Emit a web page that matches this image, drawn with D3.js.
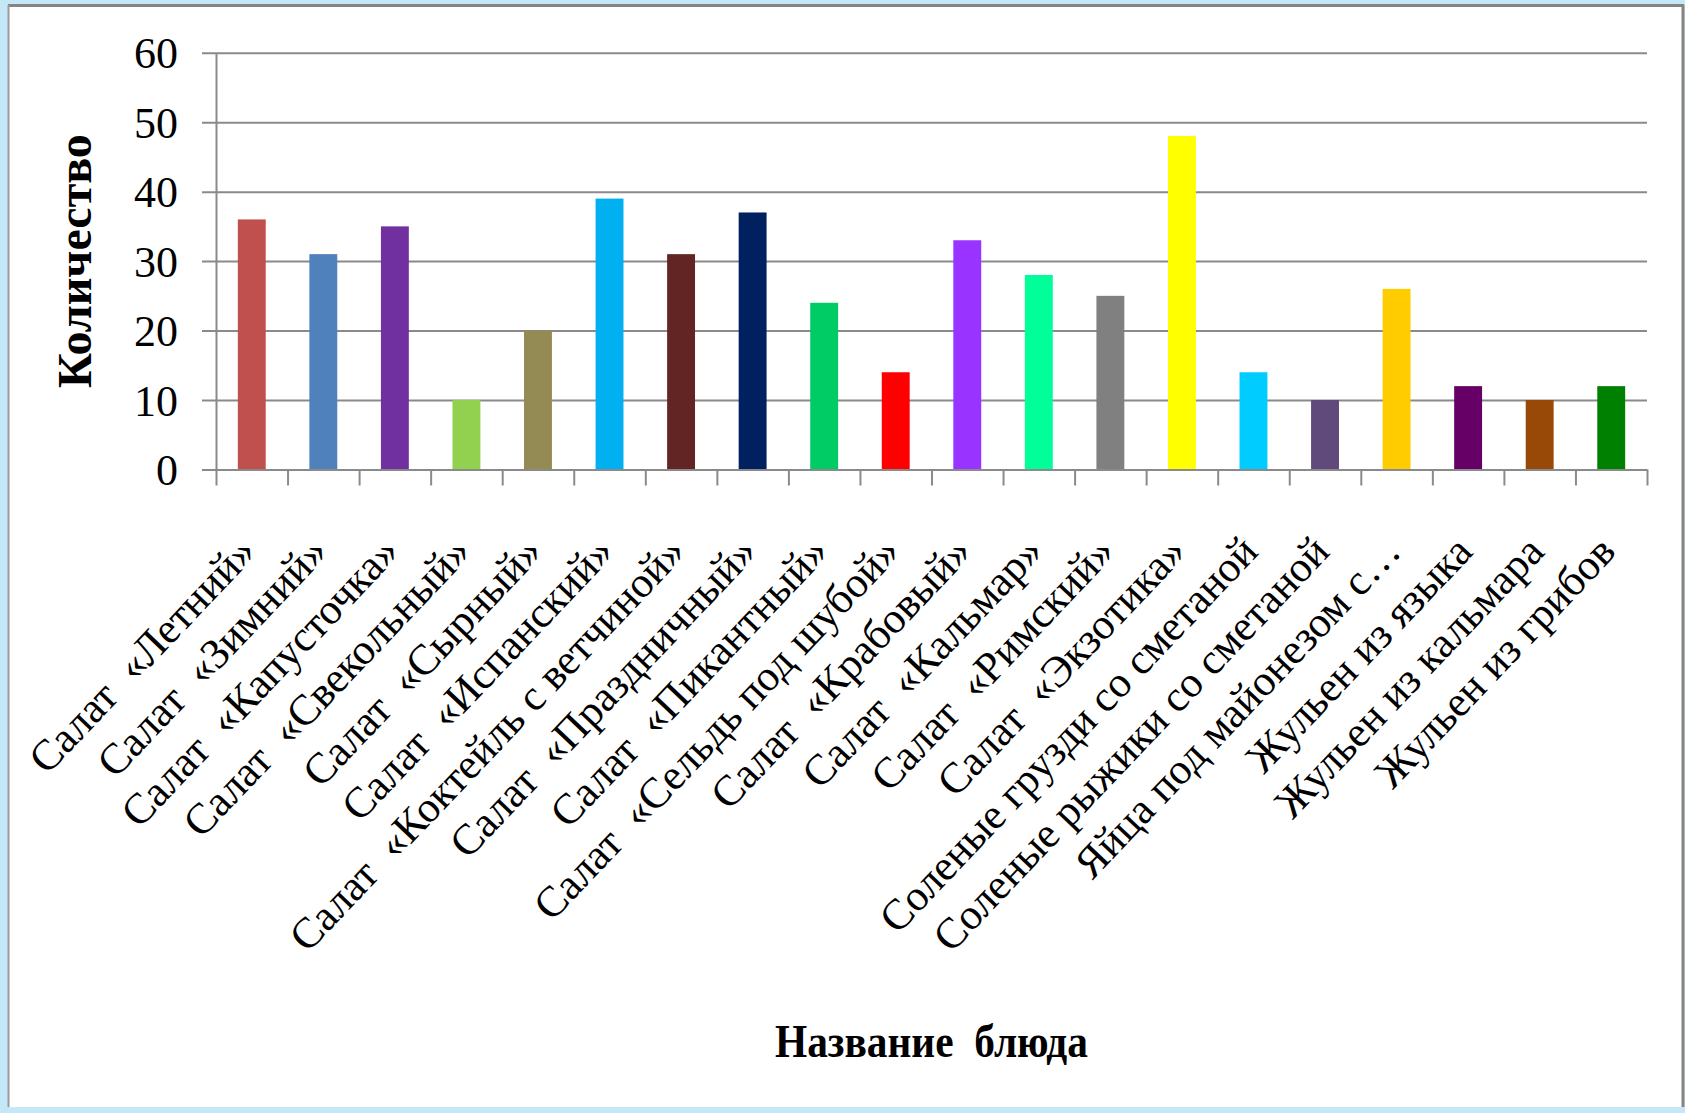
<!DOCTYPE html>
<html>
<head>
<meta charset="utf-8">
<script src="https://cdn.jsdelivr.net/npm/d3@7"></script>
<style>
  body { margin: 0; background: #c4e8f8; }
  svg { display: block; }
  text { font-family: "Liberation Serif", "Times New Roman", serif; fill: #000; }
</style>
</head>
<body>
<svg width="1685" height="1113"></svg>
<script>
var dishes = [
    "Салат  «Летний»", "Салат  «Зимний»", "Салат  «Капусточка»", "Салат  «Свекольный»",
    "Салат  «Сырный»", "Салат  «Испанский»", "Салат  «Коктейль с ветчиной»", "Салат  «Праздничный»",
    "Салат  «Пикантный»", "Салат  «Сельдь под шубой»", "Салат  «Крабовый»", "Салат  «Кальмар»",
    "Салат  «Римский»", "Салат  «Экзотика»", "Соленые грузди со сметаной", "Соленые рыжики со сметаной",
    "Яйца под майонезом с…", "Жульен из языка", "Жульен из кальмара", "Жульен из грибов"
];
var counts = [36, 31, 35, 10, 20, 39, 31, 37, 24, 14, 33, 28, 25, 48, 14, 10, 26, 12, 10, 12];
var barColors = [
    "#c0504d", "#4f81bd", "#7030a0", "#92d050", "#948a54", "#00b0f0", "#632523", "#002060",
    "#00cc66", "#ff0000", "#9933ff", "#00ff99", "#808080", "#ffff00", "#00ccff", "#604a7b",
    "#ffcc00", "#660066", "#984807", "#008000"
];
var yTicks = [0, 10, 20, 30, 40, 50, 60];

function main() {
    var svg = d3.select("svg");

    // frame of the slide
    svg.append("rect").attr("x", 8).attr("y", 5).attr("width", 1675).attr("height", 1102)
        .attr("fill", "#fff");
    svg.append("line").attr("x1", 8).attr("x2", 1684).attr("y1", 5.5).attr("y2", 5.5)
        .attr("stroke", "#858585").attr("stroke-width", 3);
    svg.append("line").attr("x1", 8.5).attr("x2", 8.5).attr("y1", 5).attr("y2", 1107)
        .attr("stroke", "#9a9a9a").attr("stroke-width", 2);
    svg.append("line").attr("x1", 1683).attr("x2", 1683).attr("y1", 5).attr("y2", 1107)
        .attr("stroke", "#858585").attr("stroke-width", 3);

    var left = 216, top = 52.7, width = 1431, height = 469.5 - 52.7;

    var x = d3.scaleBand().domain(dishes).range([0, width])
        .paddingInner(0.61).paddingOuter(0.305);
    var xEdges = d3.scaleLinear().domain([0, dishes.length]).range([0, width]);
    var y = d3.scaleLinear().domain([0, 60]).range([height, 0]);

    var g = svg.append("g").attr("transform", "translate(" + left + "," + top + ")");

    // grid + y axis
    var yAxis = g.append("g")
        .call(d3.axisLeft(y).tickValues(yTicks).tickSizeInner(-width).tickSizeOuter(0).tickPadding(38));
    yAxis.select(".domain").attr("stroke", "#8a8a8a").attr("stroke-width", 2);
    yAxis.selectAll(".tick line").attr("x1", -14).attr("stroke", "#8a8a8a").attr("stroke-width", 2);
    yAxis.selectAll(".tick text").attr("font-size", "44px").attr("font-family", null)
        .attr("dy", "0.34em");

    // bars
    g.selectAll(".bar")
        .data(dishes)
        .enter().append("rect")
        .attr("class", "bar")
        .attr("x", function(d){ return x(d); })
        .attr("y", function(d, i){ return y(counts[i]); })
        .attr("width", x.bandwidth())
        .attr("height", function(d, i){ return height - y(counts[i]); })
        .attr("fill", function(d, i){ return barColors[i]; });

    // x axis: line and ticks between categories
    var xTickAxis = g.append("g").attr("transform", "translate(0," + height + ")")
        .call(d3.axisBottom(xEdges).tickValues(d3.range(dishes.length + 1)).tickSize(16).tickSizeOuter(0).tickFormat(""));
    xTickAxis.select(".domain").attr("stroke", "#8a8a8a").attr("stroke-width", 2);
    xTickAxis.selectAll(".tick line").attr("stroke", "#8a8a8a").attr("stroke-width", 2);

    // category labels
    var xAxis = g.append("g").attr("transform", "translate(0," + height + ")")
        .call(d3.axisBottom(x).tickSize(0).tickPadding(0));
    xAxis.select(".domain").remove();
    xAxis.selectAll(".tick text")
        .attr("font-size", "43px").attr("font-family", null)
        .style("white-space", "pre")
        .attr("text-anchor", "end")
        .attr("y", 0).attr("dy", "0.3em")
        .attr("transform", "translate(-3,75) rotate(-46.5)");

    // titles
    svg.append("text")
        .attr("transform", "translate(91," + (top + height / 2) + ") rotate(-90)")
        .attr("text-anchor", "middle")
        .attr("font-size", "48px").attr("font-weight", "bold")
        .text("Количество");

    svg.append("text")
        .attr("x", left + width / 2).attr("y", 1057)
        .attr("text-anchor", "middle")
        .attr("font-size", "46px").attr("font-weight", "bold")
        .attr("textLength", 313).attr("lengthAdjust", "spacingAndGlyphs")
        .style("white-space", "pre")
        .text("Название  блюда");
}

main();
</script>
</body>
</html>
